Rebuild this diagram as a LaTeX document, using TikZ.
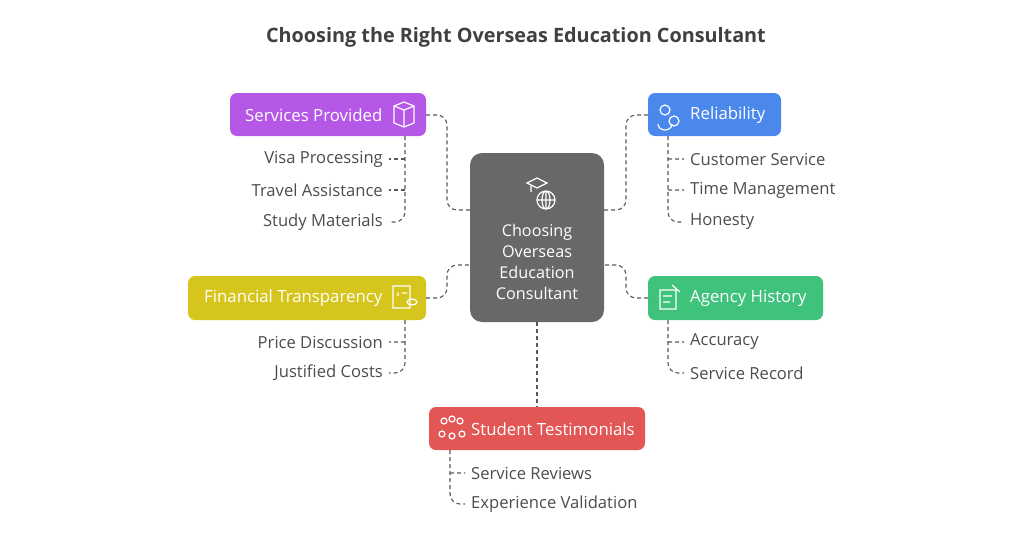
\documentclass[tikz,border=0pt]{standalone}
\usepackage{fontspec}
\setmainfont{Open Sans}
\begin{document}
\begin{tikzpicture}[x=1pt,y=-1pt,
 cat/.style={rounded corners=6pt,text=white,font=\fontsize{16.8}{18}\selectfont,inner sep=0pt},
 item/.style={text=black!70,font=\fontsize{16.6}{18}\selectfont,inner sep=0pt},
 con/.style={draw=black!65,dashed,dash pattern=on 4pt off 3pt,line width=1.1pt,rounded corners=10pt},
 ico/.style={draw=white,line width=1.2pt}]
\useasboundingbox (0,0) rectangle (1024,536);
\definecolor{cpurple}{HTML}{B558E8}\definecolor{cblue}{HTML}{4A88EC}
\definecolor{cyellow}{HTML}{D6C51C}\definecolor{cgreen}{HTML}{3EC27C}
\definecolor{cred}{HTML}{E35656}\definecolor{cgray}{HTML}{686868}
\node[text=black!75,font=\fontsize{19.8}{22}\selectfont\bfseries] (title) at (516,37) {Choosing the Right Overseas Education Consultant};
% center
\fill[cgray,rounded corners=12pt] (470,153) rectangle (604,322);
\node[text=white,align=center,font=\fontsize{16.2}{21}\selectfont] (c) at (537,262) {Choosing\\Overseas\\Education\\Consultant};
\draw[ico] (527,183) -- (537,178) -- (547,183) -- (537,188) -- cycle (531,186) -- (531,192) (546,200) circle (9) (537,200) -- (555,200) (546,191) -- (546,209) (546,200) ellipse (4 and 9);
% boxes
\fill[cpurple,rounded corners=7pt] (230,93) rectangle (426,136);
\node[cat,anchor=west] (sp) at (245,115) {Services Provided};
\draw[ico] (394,106) -- (404,102) -- (414,106) -- (414,123) -- (404,127) -- (394,123) -- cycle (394,106) -- (404,110) -- (414,106) (404,110) -- (404,127);
\fill[cblue,rounded corners=7pt] (648,93) rectangle (781,136);
\node[cat,anchor=west] (rel) at (690,115) {Reliability};
\draw[ico] (665,110) circle (5) (658,124) arc (180:0:7 and 6) (674,121) circle (5);
\fill[cyellow,rounded corners=7pt] (188,276) rectangle (426,320);
\node[cat,anchor=west] (ft) at (204,298) {Financial Transparency};
\draw[ico] (393,286) rectangle (410,308) (398,295) node[text=white,font=\tiny\bfseries]{\$} (402,293) -- (407,293) (412,302) ellipse (5 and 3);
\fill[cgreen,rounded corners=7pt] (648,276) rectangle (823,320);
\node[cat,anchor=west] (ah) at (690,298) {Agency History};
\draw[ico] (660,290) rectangle (676,309) (663,296) -- (672,296) (663,302) -- (670,302) (672,285) -- (680,292);
\fill[cred,rounded corners=7pt] (429,407) rectangle (645,450);
\node[cat,anchor=west] (st) at (471,429) {Student Testimonials};
\draw[ico] (444,421) circle (3) (452,419) circle (3) (460,421) circle (3) (442,434) circle (3) (452,436) circle (3) (462,434) circle (3);
% items
\foreach \n/\t/\y in {v/Visa Processing/159,ta/Travel Assistance/190,sm/Study Materials/222,pd/Price Discussion/342,jc/Justified Costs/373}
 \node[item,anchor=east] (\n) at (383,\y) {\t};
\foreach \n/\t/\y in {cs/Customer Service/159,tm/Time Management/190,ho/Honesty/222,ac/Accuracy/342,sr/Service Record/373}
 \node[item,anchor=west] (\n) at (690,\y) {\t};
\node[item,anchor=west] (rv) at (471,473) {Service Reviews};
\node[item,anchor=west] (ev) at (471,504) {Experience Validation};
% item connectors
\draw[con] (405,136) -- (405,222) -- (389,222);
\draw[con] (405,159) -- (389,159) (405,190) -- (389,190);
\draw[con] (405,320) -- (405,373) -- (389,373) (405,342) -- (389,342);
\draw[con] (668,136) -- (668,222) -- (684,222) (668,159) -- (684,159) (668,190) -- (684,190);
\draw[con] (668,320) -- (668,373) -- (684,373) (668,342) -- (684,342);
\draw[con] (450,450) -- (450,504) -- (465,504) (450,473) -- (465,473);
% main connectors
\draw[con] (426,115) -- (447,115) -- (447,210) -- (470,210);
\draw[con] (648,115) -- (626,115) -- (626,210) -- (604,210);
\draw[con] (426,298) -- (447,298) -- (447,265) -- (470,265);
\draw[con] (648,298) -- (626,298) -- (626,265) -- (604,265);
\draw[con] (537,322) -- (537,407);
\end{tikzpicture}
\end{document}
